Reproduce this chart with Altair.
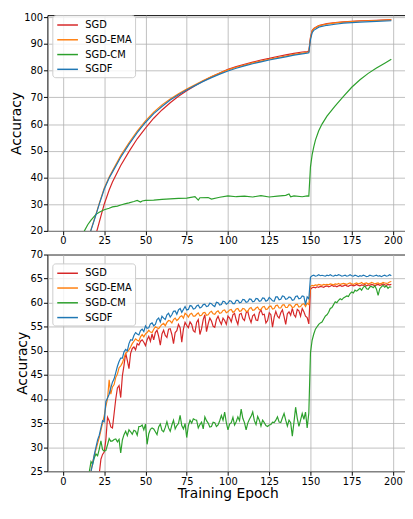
import altair as alt
import pandas as pd

SERIES = ["SGD", "SGD-EMA", "SGD-CM", "SGDF"]
COLORS = ["#d62728", "#ff7f0e", "#2ca02c", "#1f77b4"]
X_TICKS = [0, 25, 50, 75, 100, 125, 150, 175, 200]
TOP_Y_TICKS = [20, 30, 40, 50, 60, 70, 80, 90, 100]
BOT_Y_TICKS = [25, 30, 35, 40, 45, 50, 55, 60, 65, 70]

# ---------------- top panel ----------------
TOP_SGD_X = [0, 10, 15, 18, 20, 21, 23, 25, 28, 30, 35, 40, 45, 50, 55, 60, 65, 70, 75, 80,
             85, 90, 95, 100, 105, 110, 115, 120, 125, 130, 135, 140, 145, 148, 149, 150, 151, 152, 155, 160,
             165, 170, 180, 190, 199]
TOP_SGD_Y = [10, 11, 13, 16.5, 18.8, 21, 25.5, 30, 35.3, 38.3, 44.5, 49.7, 54.5, 58.5, 62.2, 65.3, 68, 70.4, 72.5, 74.4,
             76.1, 77.7, 79.1, 80.5, 81.5, 82.4, 83.2, 84, 84.6, 85.3, 85.9, 86.5, 87, 87.2, 87.3, 92.5, 95, 95.8, 96.9, 97.6,
             98, 98.3, 98.7, 98.9, 99.1]

TOP_EMA_X = [0, 10, 13, 15, 17, 20, 22, 25, 28, 30, 35, 40, 45, 50, 55, 60, 65, 70, 75, 80,
             85, 90, 95, 100, 105, 110, 115, 120, 125, 130, 135, 140, 145, 148, 149, 150, 151, 152, 155, 160,
             165, 170, 180, 190, 199]
TOP_EMA_Y = [10, 11, 13, 16.5, 20.5, 26.3, 30.3, 36, 40.2, 42.5, 48.2, 53, 57.4, 61.2, 64.5, 67.2, 69.4, 71.4, 73.1, 74.7,
             76.3, 77.8, 79.1, 80.3, 81.3, 82.1, 82.9, 83.6, 84.3, 84.9, 85.5, 86.1, 86.6, 86.9, 87, 92.2, 94.8, 95.7, 96.8, 97.5,
             97.9, 98.2, 98.6, 98.8, 99.0]

TOP_SGDF_X = TOP_EMA_X
TOP_SGDF_Y = [10, 11, 13, 16.3, 20.3, 26, 30, 35.6, 39.8, 42, 47.6, 52.4, 56.8, 60.6, 63.9, 66.6, 69, 71, 72.8, 74.4,
              76, 77.4, 78.7, 79.9, 80.9, 81.8, 82.6, 83.3, 84, 84.6, 85.2, 85.8, 86.3, 86.6, 86.7, 91.6, 94.2, 95.1, 96.3, 97,
              97.4, 97.8, 98.2, 98.5, 98.7]

TOP_CM_X = [0, 10, 13, 15, 17, 20, 22, 25, 28, 30, 33, 35, 38, 40, 43, 45, 47, 48, 50, 55,
            60, 65, 70, 75, 80, 82, 83, 88, 90, 95, 100, 105, 110, 115, 120, 125, 130, 135, 137, 138,
            140, 145, 148, 149, 150, 151, 152, 153, 155, 157, 160, 165, 170, 175, 180, 185, 190, 195, 199]
TOP_CM_Y = [10, 16.5, 20, 22.3, 24, 26.2, 27, 27.9, 28.5, 29, 29.3, 29.7, 30.2, 30.5, 31, 31.4, 30.8, 31.2, 31.4, 31.5,
            31.8, 32, 32.2, 32.3, 32.8, 31.5, 32.4, 32.5, 31.9, 32.6, 33.1, 32.8, 33, 32.7, 33.2, 32.7, 33, 33.3, 33.8, 32.8,
            33.1, 32.8, 33.1, 33, 44, 48.5, 51.5, 54, 57.5, 60, 63, 66.8, 70.4, 73.8, 76.6, 79, 81, 82.8, 84.3]

# ---------------- bottom panel (one value per epoch) ----------------
BOT_SGD_START = 18
BOT_SGD_Y = [18.0, 19.5,
             21.0, 22.8, 24.5, 27.5, 28.5, 29.0, 31.5, 36.2, 35.5, 34.2,
             34.0, 37.0, 40.0, 42.3, 42.8, 40.3, 44.8, 47.0, 49.6, 48.0,
             46.3, 49.5, 50.5, 50.8, 50.2, 51.5, 51.2, 52.0, 52.3, 51.8,
             51.1, 52.3, 53.0, 52.0, 53.5, 52.3, 53.8, 54.3, 53.0, 51.2,
             53.5, 54.3, 53.2, 52.8, 54.5, 54.6, 53.4, 51.5, 53.8, 54.2,
             55.5, 54.8, 51.8, 54.5, 55.9, 55.3, 54.8, 56.0, 55.5, 54.2,
             53.9, 55.9, 56.5, 53.4, 54.6, 56.5, 57.5, 54.0, 55.6, 56.8,
             56.2, 55.1, 54.9, 56.5, 57.2, 56.2, 55.5, 56.8, 56.3, 55.5,
             57.2, 56.8, 56.0, 57.5, 57.8, 56.4, 55.5, 57.6, 57.8, 56.7,
             56.3, 57.9, 58.2, 56.8, 55.9, 57.3, 57.6, 56.4, 56.3, 57.9,
             58.5, 57.5, 57.6, 55.8, 56.3, 57.9, 57.5, 54.9, 57.0, 58.2,
             57.2, 56.8, 57.9, 58.5, 57.1, 55.5, 57.7, 58.1, 57.4, 58.8,
             57.5, 57.0, 58.6, 58.3, 57.2, 58.8, 58.1, 57.2, 56.9, 55.6,
             62.8, 63.1, 63.2, 63.1, 63.3, 63.2, 63.4, 63.3, 63.2, 63.4,
             63.5, 63.3, 63.4, 63.6, 63.4, 63.5, 63.3, 63.5, 63.6, 63.4,
             63.5, 63.7, 63.5, 63.4, 63.6, 63.7, 63.5, 63.6, 63.8, 63.6,
             63.5, 63.7, 63.6, 63.8, 63.5, 63.7, 63.6, 63.8, 63.7, 63.5,
             63.7, 63.8, 63.6, 63.7, 63.9, 63.7, 63.6, 63.8, 63.7, 63.8]

BOT_EMA_START = 14
BOT_EMA_Y = [20.0, 21.5, 23.0, 25.0, 27.0, 28.3,
             29.5, 30.8, 32.0, 33.5, 35.0, 36.5, 38.5, 40.0, 44.0, 41.0,
             42.5, 43.0, 44.5, 45.2, 46.5, 46.9, 47.5, 48.5, 49.5, 49.8,
             50.2, 50.8, 51.5, 52.0, 52.5, 52.2, 52.0, 52.9, 53.4, 52.9,
             53.5, 53.8, 54.3, 53.9, 53.8, 54.5, 55.0, 54.8, 54.6, 55.1,
             55.5, 55.7, 55.2, 55.9, 56.3, 56.2, 55.8, 56.5, 56.8, 56.3,
             56.6, 57.1, 57.3, 56.8, 57.8, 57.5, 57.0, 57.6, 57.8, 57.2,
             57.2, 57.6, 57.9, 57.3, 57.4, 57.9, 58.0, 57.4, 57.5, 58.0,
             58.2, 57.7, 57.6, 58.1, 58.3, 57.8, 57.9, 58.4, 58.5, 57.9,
             58.1, 58.5, 58.6, 58.0, 58.2, 58.7, 58.8, 58.2, 58.3, 58.8,
             58.7, 58.2, 58.2, 58.8, 59.0, 58.4, 58.5, 58.9, 59.1, 58.5,
             58.6, 59.1, 59.2, 58.6, 58.7, 59.2, 59.3, 58.7, 58.8, 59.4,
             59.5, 58.9, 58.9, 59.5, 59.6, 59.0, 59.0, 59.6, 59.5, 59.0,
             59.1, 59.6, 59.7, 59.1, 59.2, 59.7, 59.8, 59.2, 59.9, 59.6,
             63.4, 63.6, 63.5, 63.7, 63.6, 63.8, 63.7, 63.6, 63.8, 63.7,
             63.8, 63.7, 63.9, 63.8, 63.7, 63.9, 63.8, 64.0, 63.8, 63.9,
             64.0, 63.9, 63.8, 64.0, 64.1, 63.9, 63.8, 64.0, 64.1, 63.9,
             64.0, 64.2, 63.9, 64.0, 64.1, 63.9, 64.0, 64.2, 64.1, 63.9,
             64.0, 64.1, 63.9, 64.0, 64.2, 64.1, 64.0, 64.1, 64.3, 64.4]

BOT_CM_START = 14
BOT_CM_Y = [22.0, 23.5, 25.0, 27.0, 26.5, 27.8,
            28.6, 28.2, 29.6, 31.3, 29.5, 29.2, 29.3, 30.5, 31.8, 31.2,
            31.3, 31.6, 31.7, 31.1, 31.6, 28.8, 31.5, 32.6, 33.3, 32.4,
            33.6, 33.2, 32.7, 33.5, 33.3, 32.5, 34.3, 34.3, 34.6, 33.6,
            34.8, 30.6, 32.8, 33.7, 34.0, 33.8, 33.2, 32.6, 34.2, 34.8,
            33.5, 33.2, 34.1, 35.3, 34.0, 33.3, 34.6, 35.6, 33.8, 34.5,
            34.9, 36.6, 34.5, 33.8, 34.9, 32.0, 34.5, 35.6, 35.0, 35.9,
            35.7, 35.6, 34.0, 34.7, 35.2, 33.8, 36.3, 35.5, 35.0, 34.2,
            34.3, 35.2, 35.1, 34.3, 34.6, 35.5, 36.6, 35.6, 37.3, 35.1,
            33.6, 34.8, 35.1, 36.2, 34.6, 35.3, 36.3, 35.5, 37.9, 36.0,
            35.1, 33.6, 35.0, 35.8, 36.4, 37.3, 35.5, 34.7, 36.4, 35.6,
            34.4, 35.6, 35.1, 34.5, 34.3, 34.6, 34.7, 35.2, 35.1, 35.6,
            36.3, 35.2, 35.1, 36.1, 37.0, 35.6, 34.4, 35.6, 35.1, 32.3,
            35.2, 38.3, 36.0, 34.3, 35.6, 37.0, 35.8, 37.3, 34.0, 37.1,
            49.6, 52.2, 53.5, 54.5, 55.0, 55.5, 55.8, 56.0, 56.6, 57.2,
            57.5, 58.0, 58.8, 59.0, 59.6, 60.2, 60.0, 60.5, 60.8, 60.6,
            61.0, 61.2, 61.4, 61.3, 61.9, 62.2, 62.0, 62.6, 62.4, 62.7,
            63.0, 62.6, 63.2, 63.5, 62.9, 62.8, 63.3, 63.4, 63.1, 63.5,
            62.8, 61.5, 62.9, 63.3, 63.6, 63.2, 63.5, 63.0, 63.3, 63.2]

BOT_SGDF_START = 14
BOT_SGDF_Y = [20.0, 21.5, 23.0, 25.0, 26.5, 28.5,
              30.0, 31.5, 32.5, 34.0, 35.5, 35.3, 39.5, 40.2, 41.0, 42.3,
              43.5, 44.2, 45.5, 46.8, 47.8, 48.5, 48.5, 49.8, 50.3, 50.0,
              51.5, 52.3, 52.2, 53.2, 53.8, 53.5, 53.3, 54.2, 54.5, 54.0,
              55.2, 54.7, 54.8, 55.6, 55.8, 55.2, 55.5, 56.5, 56.8, 56.0,
              57.2, 56.8, 56.5, 57.5, 57.8, 57.0, 57.5, 58.2, 58.3, 57.6,
              58.5, 58.8, 58.0, 58.6, 59.2, 58.5, 58.6, 59.4, 59.3, 58.7,
              58.8, 59.3, 59.5, 58.9, 59.1, 59.6, 59.7, 59.2, 59.3, 59.9,
              59.8, 59.4, 59.2, 60.1, 60.0, 59.5, 59.6, 60.3, 60.2, 59.7,
              59.9, 60.4, 60.3, 59.8, 59.8, 60.5, 60.5, 60.0, 60.1, 60.7,
              60.6, 60.1, 60.2, 60.8, 60.7, 60.2, 60.3, 60.9, 60.8, 60.3,
              60.4, 61.0, 60.9, 60.3, 60.5, 61.1, 60.8, 60.4, 60.3, 61.2,
              61.2, 60.6, 60.7, 61.4, 61.3, 60.7, 60.8, 61.2, 61.1, 60.5,
              60.6, 61.3, 61.4, 60.8, 60.9, 61.4, 61.3, 59.6, 61.2, 60.8,
              65.3, 65.6, 65.7, 65.5, 65.6, 65.8, 65.6, 65.7, 65.6, 65.5,
              65.7, 65.6, 65.8, 65.6, 65.5, 65.7, 65.6, 65.8, 65.7, 65.5,
              65.6, 65.7, 65.5, 65.6, 65.8, 65.6, 65.5, 65.7, 65.6, 65.4,
              65.6, 65.5, 65.7, 65.6, 65.4, 65.5, 65.7, 65.6, 65.5, 65.6,
              65.7, 65.5, 65.6, 65.4, 65.6, 65.7, 65.5, 65.6, 65.8, 65.6]


def build(pairs):
    rows = []
    for k, (name, xs, ys) in enumerate(pairs):
        for x, y in zip(xs, ys):
            rows.append({"epoch": x, "acc": y, "series": name, "k": k})
    return pd.DataFrame(rows)


def seq(start, ys):
    return list(range(start, start + len(ys)))


top_df = build([
    ("SGD", TOP_SGD_X, TOP_SGD_Y),
    ("SGD-EMA", TOP_EMA_X, TOP_EMA_Y),
    ("SGD-CM", TOP_CM_X, TOP_CM_Y),
    ("SGDF", TOP_SGDF_X, TOP_SGDF_Y),
])
bot_df = build([
    ("SGD", seq(BOT_SGD_START, BOT_SGD_Y), BOT_SGD_Y),
    ("SGD-EMA", seq(BOT_EMA_START, BOT_EMA_Y), BOT_EMA_Y),
    ("SGD-CM", seq(BOT_CM_START, BOT_CM_Y), BOT_CM_Y),
    ("SGDF", seq(BOT_SGDF_START, BOT_SGDF_Y), BOT_SGDF_Y),
])

W = 366
X_DOMAIN = [-9.43, 209.08]


def panel(df, ydomain, yticks, xtitle, height, ly):
    legend = alt.Legend(
        title=None, orient="none", legendX=5, legendY=ly,
        symbolType="M-1.75,0L1.75,0", symbolSize=144, symbolStrokeWidth=1.5,
        symbolOffset=5.5, labelOffset=11, rowPadding=3, padding=3,
        labelFontSize=10, labelColor="black", labelFont="DejaVu Sans",
        strokeColor="#cccccc", fillColor="rgba(255,255,255,0.8)", cornerRadius=3,
    )
    xaxis = alt.Axis(values=X_TICKS, title=xtitle) if xtitle else alt.Axis(values=X_TICKS, title=None)
    return alt.Chart(df).mark_line(clip=True, strokeWidth=1.2).encode(
        x=alt.X("epoch:Q", scale=alt.Scale(domain=X_DOMAIN, nice=False, zero=False), axis=xaxis),
        y=alt.Y("acc:Q", scale=alt.Scale(domain=ydomain, nice=False, zero=False),
                axis=alt.Axis(values=yticks, title="Accuracy")),
        color=alt.Color("series:N", scale=alt.Scale(domain=SERIES, range=COLORS), legend=legend),
        detail="k:N",
    ).properties(width=W, height=height)


top = panel(top_df, [20, 100.8], TOP_Y_TICKS, None, 219, 0)
bottom = panel(bot_df, [25, 70], BOT_Y_TICKS, "Training Epoch", 220, 9)

chart = alt.vconcat(top, bottom, spacing=24, bounds="flush").resolve_scale(
    color="independent").resolve_legend(color="independent").properties(
    padding={"left": 0, "top": -0.5, "right": -4, "bottom": 0}
).configure(font="DejaVu Sans").configure_view(
    stroke="black", strokeWidth=1
).configure_axis(
    domain=False, grid=True, gridColor="#b0b0b0", gridWidth=0.8,
    tickColor="black", tickSize=4, tickWidth=1, labelFontSize=10, labelColor="black",
    titleFontSize=14, titleFontWeight="normal", titleColor="black",
    labelFont="DejaVu Sans", titleFont="DejaVu Sans",
).configure_axisX(titlePadding=1, labelPadding=1).configure_axisY(titlePadding=0.5, labelPadding=1)

chart.save("out.html", embed_options={"renderer": "svg", "actions": False})
